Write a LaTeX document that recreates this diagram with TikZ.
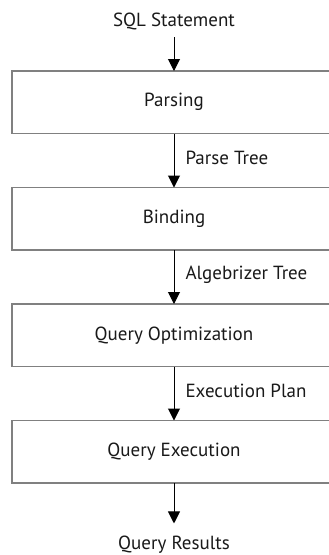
\documentclass[tikz,border=0pt]{standalone}
\usepackage{fontspec}
\setmainfont{PT Sans}
\usetikzlibrary{arrows.meta, positioning}

\begin{document}
\begin{tikzpicture}[
  x=1pt, y=1pt,
  stage/.style={draw=black!50, line width=1.3pt, minimum width=324pt, minimum height=62.5pt, outer sep=0pt, font=\fontsize{19}{21}\selectfont, text=black!90},
  io/.style={font=\fontsize{19}{21}\selectfont, text=black!90, inner sep=0pt},
  lbl/.style={font=\fontsize{19}{21}\selectfont, text=black!90, inner sep=0pt, right=11pt},
  arr/.style={-{Triangle[length=12pt, width=12pt]}, line width=1pt}
]
\useasboundingbox (0,0) rectangle (329,-555);
% the four stages
\node[stage] (parse) at (174,-102.25) {Parsing};
\node[stage, below=54pt of parse] (bind) {Binding};
\node[stage, below=54pt of bind] (optim) {Query Optimization};
\node[stage, below=54pt of optim] (exec) {Query Execution};
% input and output
\node[io, anchor=base, outer ysep=8pt] (sql) at (174,-26) {SQL Statement};
\node[io, anchor=base, outer ysep=12pt] (res) at (174,-549) {Query Results};
\draw[arr] (sql) -- (parse);
\draw[arr] (parse) -- node[lbl, pos=0.45] {Parse Tree} (bind);
\draw[arr] (bind) -- node[lbl, pos=0.45] {Algebrizer Tree} (optim);
\draw[arr] (optim) -- node[lbl, pos=0.45] {Execution Plan} (exec);
\draw[arr] (exec) -- (res);
\end{tikzpicture}
\end{document}
